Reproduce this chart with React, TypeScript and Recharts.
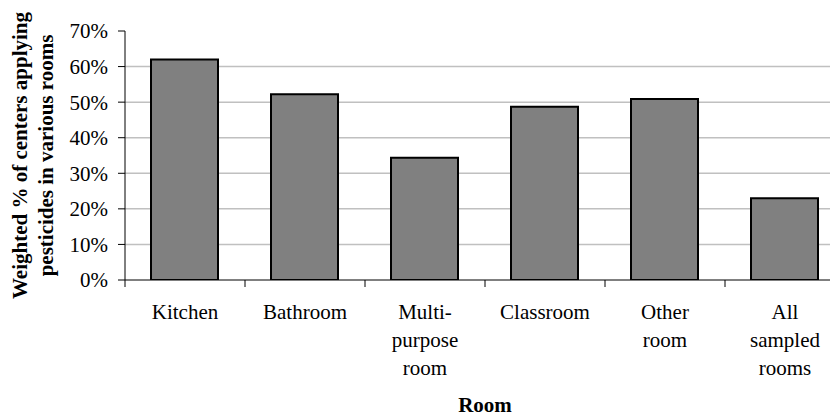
import { BarChart, Bar, XAxis, YAxis, CartesianGrid } from 'recharts';

const rooms = ['Kitchen', 'Bathroom', 'Multi-purpose room', 'Classroom', 'Other room', 'All sampled rooms'];
const roomLines = [
    ['Kitchen'],
    ['Bathroom'],
    ['Multi-', 'purpose', 'room'],
    ['Classroom'],
    ['Other', 'room'],
    ['All', 'sampled', 'rooms'],
];
const shares = [0.62, 0.522, 0.344, 0.487, 0.509, 0.23];
const yTicks = [0, 0.1, 0.2, 0.3, 0.4, 0.5, 0.6, 0.7];
const gridValues = [0.1, 0.2, 0.3, 0.4, 0.5, 0.6];

// rooms sit in the middle of unit slots on a numeric axis, so tick marks can go on slot edges
const data = rooms.map((room, i) => ({ room, slot: i + 0.5, share: shares[i] }));
const edgeTicks = [0, ...rooms.map((_, i) => i + 1)];
const xTicks = [...edgeTicks, ...data.map((d) => d.slot)].sort((a, b) => a - b);

const font = '"Liberation Serif", "Times New Roman", serif';

const RoomTick = (props: any) => {
    const { x, y, payload } = props;
    const value = payload.value as number;
    if (Number.isInteger(value)) {
        return <line x1={x} y1={y} x2={x} y2={y + 7} stroke='#000' />;
    }
    const lines = roomLines[Math.floor(value)] || [];
    return (
        <text x={x} y={y} textAnchor='middle' fontFamily={font} fontSize={21} fill='#000'>
            {lines.map((line, i) => (
                <tspan key={i} x={x} dy={i === 0 ? 39 : 28}>
                    {line}
                </tspan>
            ))}
        </text>
    );
};

const YTitle = (props: any) => {
    const { viewBox } = props;
    const cx = 40;
    const cy = viewBox.y + viewBox.height / 2;
    return (
        <text
            transform={`rotate(-90, ${cx}, ${cy})`}
            x={cx}
            y={cy}
            textAnchor='middle'
            fontFamily={font}
            fontSize={21}
            fontWeight='bold'
            fill='#000'
        >
            <tspan x={cx} dy={-13}>Weighted % of centers applying</tspan>
            <tspan x={cx} dy={26}>pesticides in various rooms</tspan>
        </text>
    );
};

const XTitle = (props: any) => {
    const { viewBox } = props;
    return (
        <text
            x={viewBox.x + viewBox.width / 2}
            y={412}
            textAnchor='middle'
            fontFamily={font}
            fontSize={21}
            fontWeight='bold'
            fill='#000'
        >
            Room
        </text>
    );
};

export default function App() {
    return (
        <div style={{ marginLeft: -8, marginTop: -8, width: 838, height: 418, overflow: 'hidden', background: '#fff' }}>
            <BarChart width={860} height={418} data={data} margin={{ top: 31, right: 15, bottom: 0, left: 0 }}>
                <CartesianGrid vertical={false} horizontalValues={gridValues} stroke='#c0c0c0' strokeWidth={1.5} />
                <XAxis
                    dataKey='slot'
                    type='number'
                    domain={[0, rooms.length]}
                    ticks={xTicks}
                    interval={0}
                    tickLine={false}
                    tickSize={0}
                    tickMargin={0}
                    height={138}
                    axisLine={{ stroke: '#000' }}
                    tick={<RoomTick />}
                    label={<XTitle />}
                    allowDataOverflow
                />
                <YAxis
                    width={125}
                    domain={[0, 0.7]}
                    ticks={yTicks}
                    tickFormatter={(v: number) => `${Math.round(v * 100)}%`}
                    tick={{ fontFamily: font, fontSize: 21, fill: '#000' }}
                    tickSize={7}
                    tickMargin={10}
                    axisLine={{ stroke: '#000' }}
                    tickLine={{ stroke: '#000' }}
                    label={<YTitle />}
                    allowDataOverflow
                />
                <Bar
                    dataKey='share'
                    fill='#808080'
                    stroke='#000'
                    strokeWidth={2}
                    barSize={67}
                    isAnimationActive={false}
                />
            </BarChart>
        </div>
    );
}
